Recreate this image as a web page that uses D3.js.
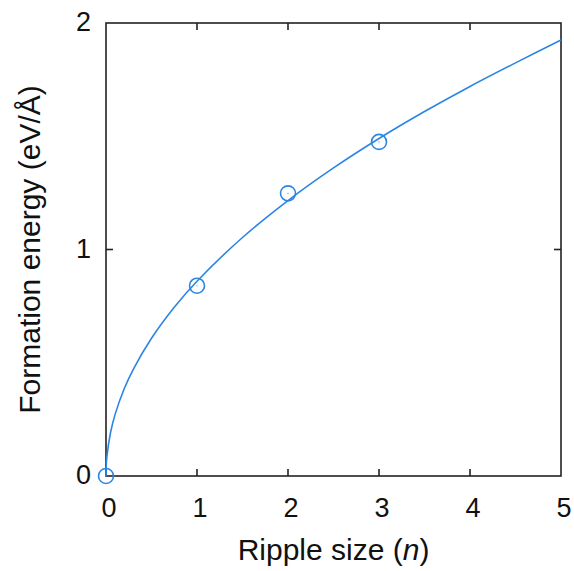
<!DOCTYPE html>
<html>
<head>
<meta charset="utf-8">
<script src="https://cdn.jsdelivr.net/npm/d3@7"></script>
<style>
  body { margin: 0; background: #fff; }
  text { font-family: "Liberation Sans", Arial, Helvetica, sans-serif; fill: #111; }
</style>
</head>
<body>
<div id="chart"></div>
<script>
// measured points (ripple size n, formation energy eV/Å)
const sizes = [0, 1, 2, 3];
const energies = [0, 0.84, 1.248, 1.475];

// fitted curve
const fitN = [0, 0.002, 0.01, 0.05, 0.1, 0.2, 0.3, 0.5, 0.75, 1, 1.5, 2, 2.5, 3, 3.5, 4, 4.5, 5];
const fitE = [0, 0.04, 0.086, 0.192, 0.272, 0.385, 0.471, 0.608, 0.745, 0.86, 1.053, 1.216, 1.36, 1.49, 1.609, 1.72, 1.824, 1.925];

const xTicks = [0, 1, 2, 3, 4, 5];
const yTicks = [0, 1, 2];

const width = 574, height = 571;
const margin = {left: 106, right: 13, top: 23, bottom: 95};
const blue = "#2b86e3";

const svg = d3.select("#chart").append("svg")
    .attr("width", width).attr("height", height);

const x = d3.scaleLinear().domain([0, 5]).range([margin.left, width - margin.right]);
const y = d3.scaleLinear().domain([0, 2]).range([height - margin.bottom, margin.top]);

// frame with inward ticks on all sides
const tickLen = 7;
const axes = svg.append("g").attr("stroke", "#222").attr("stroke-width", 1.6).attr("fill", "none");
axes.append("rect")
    .attr("x", x(0)).attr("y", y(2))
    .attr("width", x(5) - x(0)).attr("height", y(0) - y(2));

xTicks.slice(1, -1).forEach(t => {
    axes.append("line").attr("x1", x(t)).attr("x2", x(t)).attr("y1", y(0)).attr("y2", y(0) - tickLen);
    axes.append("line").attr("x1", x(t)).attr("x2", x(t)).attr("y1", y(2)).attr("y2", y(2) + tickLen);
});
yTicks.slice(1, -1).forEach(t => {
    axes.append("line").attr("x1", x(0)).attr("x2", x(0) + tickLen).attr("y1", y(t)).attr("y2", y(t));
    axes.append("line").attr("x1", x(5)).attr("x2", x(5) - tickLen).attr("y1", y(t)).attr("y2", y(t));
});

// tick labels
svg.append("g").selectAll("text").data(xTicks).enter().append("text")
    .attr("x", d => x(d) + 3).attr("y", y(0) + 41)
    .attr("text-anchor", "middle").attr("font-size", 27)
    .text(d => d);

svg.append("g").selectAll("text").data(yTicks).enter().append("text")
    .attr("x", x(0) - 15).attr("y", d => y(d) + 8)
    .attr("text-anchor", "end").attr("font-size", 27)
    .text(d => d);

// axis titles
const xt = svg.append("text")
    .attr("x", (x(0) + x(5)) / 2).attr("y", 560)
    .attr("text-anchor", "middle").attr("font-size", 30);
xt.append("tspan").text("Ripple size (");
xt.append("tspan").attr("font-style", "italic").text("n");
xt.append("tspan").text(")");

svg.append("text")
    .attr("transform", `translate(40,${(y(0) + y(2)) / 2}) rotate(-90)`)
    .attr("text-anchor", "middle").attr("font-size", 30)
    .text("Formation energy (eV/Å)");

// fit curve
const fit = fitN.map((n, i) => ({n: n, e: fitE[i]}));
const line = d3.line().x(d => x(d.n)).y(d => y(d.e)).curve(d3.curveCatmullRom.alpha(0.5));
svg.append("path").datum(fit)
    .attr("d", line)
    .attr("fill", "none").attr("stroke", blue).attr("stroke-width", 1.6);

// data markers
const pts = sizes.map((n, i) => ({n: n, e: energies[i]}));
svg.append("g").selectAll("circle").data(pts).enter().append("circle")
    .attr("cx", d => x(d.n)).attr("cy", d => y(d.e)).attr("r", 7.5)
    .attr("fill", "none").attr("stroke", blue).attr("stroke-width", 1.6);
svg.append("g").selectAll("circle").data(pts).enter().append("circle")
    .attr("cx", d => x(d.n)).attr("cy", d => y(d.e)).attr("r", 0.6)
    .attr("fill", blue);
</script>
</body>
</html>
